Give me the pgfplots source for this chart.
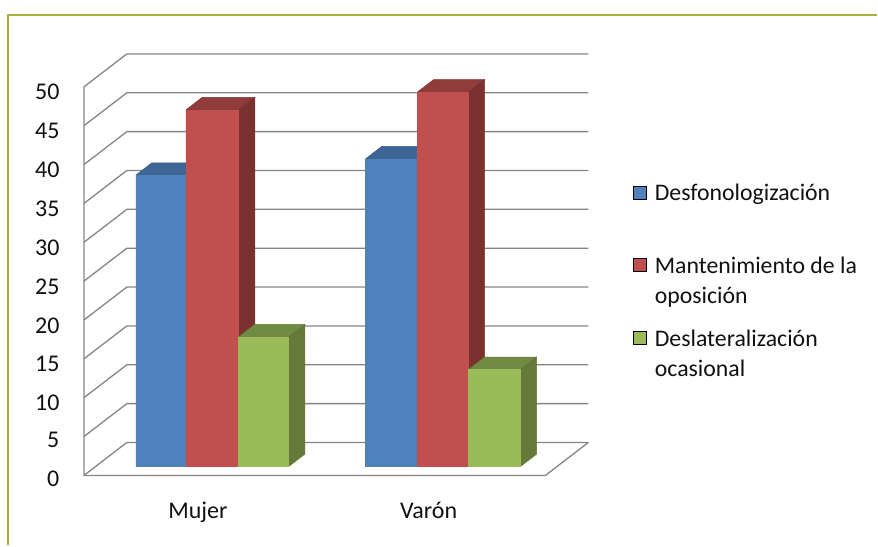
\documentclass[border=0pt]{standalone}
\usepackage{fontspec}
\setmainfont{Carlito}
\usepackage{pgfplots}
\pgfplotsset{compat=1.18}

\definecolor{frameolive}{HTML}{A9B139}
\definecolor{gridgray}{HTML}{858585}
\definecolor{inktext}{HTML}{111111}
\definecolor{bluefront}{HTML}{4F81BD}
\definecolor{bluetop}{HTML}{3E6595}
\definecolor{blueside}{HTML}{385C88}
\definecolor{redfront}{HTML}{C0504D}
\definecolor{redtop}{HTML}{8F3C3A}
\definecolor{redside}{HTML}{7A3231}
\definecolor{greenfront}{HTML}{9BBB59}
\definecolor{greentop}{HTML}{728B42}
\definecolor{greenside}{HTML}{64793A}

% One cuboid: #1 colour prefix, #2 left, #3 right, #4 height
\newcommand{\cuboid}[4]{%
  \addplot3[forget plot, no marks, fill=#1top, draw=#1side, line width=0.5pt]
    coordinates {(#2,0.27,#4) (#3,0.27,#4) (#3,0.645,#4) (#2,0.645,#4) (#2,0.27,#4)};
  \addplot3[forget plot, no marks, fill=#1side, draw=#1side, line width=0.5pt]
    coordinates {(#3,0.27,0) (#3,0.645,0) (#3,0.645,#4) (#3,0.27,#4) (#3,0.27,0)};
  \addplot3[forget plot, no marks, fill=#1front, draw=#1front, line width=0.5pt]
    coordinates {(#2,0.27,0) (#3,0.27,0) (#3,0.27,#4) (#2,0.27,#4) (#2,0.27,0)};
}

\begin{document}
\begin{tikzpicture}
\begin{axis}[
  x={(1pt,0pt)}, y={(43pt,33pt)}, z={(0pt,7.78pt)},
  xmin=84, xmax=546, ymin=0, ymax=1, zmin=0, zmax=50,
  clip=false,
  axis line style={draw=none},
  major tick length=0pt,
  tick style={draw=none},
  ytick=\empty,
  xtick={198,428},
  xticklabels={Mujer,Varón},
  ztick={0,5,...,50},
  ztick pos=left,
  xtick pos=left,
  /pgf/number format/assume math mode=true,
  tick label style={font=\fontsize{24}{28}\selectfont, text=inktext},
  z tick label style={xshift=-21pt},
  x tick label style={xshift=7pt, yshift=-23pt},
  legend style={
    at={(axis cs:631,0,38.1)}, anchor=north west,
    draw=none, fill=none,
    font=\fontsize{23.8}{30}\selectfont, text=inktext,
    row sep=47pt,
    /tikz/every odd column/.append style={column sep=6pt},
  },
  legend cell align=left,
  legend image code/.code={\fill[#1] (0pt,-7pt) rectangle (13pt,6pt);},
]
  % floor edge, left edge and value lines running round the walls
  \addplot3[forget plot, no marks, gridgray, line width=1.3pt]
    coordinates {(84,0,50) (84,0,0) (546,0,0) (546,1,0)};
  \pgfplotsinvokeforeach{0,5,...,50}{
    \addplot3[forget plot, no marks, gridgray, line width=1.3pt]
      coordinates {(84,0,#1) (84,1,#1) (546,1,#1)};
  }

  % Mujer
  \cuboid{blue}{124.4}{174.6}{37.5}
  \cuboid{red}{174.6}{227.4}{45.9}
  \cuboid{green}{227.4}{277.4}{16.7}
  % Varón
  \cuboid{blue}{354.4}{406.4}{39.6}
  \cuboid{red}{406.4}{457.4}{48.2}
  \cuboid{green}{457.4}{509.4}{12.5}

  \addlegendimage{fill=bluefront}
  \addlegendentry{Desfonologización}
  \addlegendimage{fill=redfront}
  \addlegendentry{\begin{tabular}[t]{@{}l@{}}Mantenimiento de la\\oposición\end{tabular}}
  \addlegendimage{fill=greenfront}
  \addlegendentry{\begin{tabular}[t]{@{}l@{}}Deslateralización\\ocasional\end{tabular}}

  % panel border and page extent
  \draw[frameolive, line width=2pt] (axis cs:878,0,59.2) -- (axis cs:8,0,59.2) -- (axis cs:8,0,-9);
  \path (axis cs:0,0,61.18) rectangle (axis cs:878,0,-9);
\end{axis}
\end{tikzpicture}
\end{document}
